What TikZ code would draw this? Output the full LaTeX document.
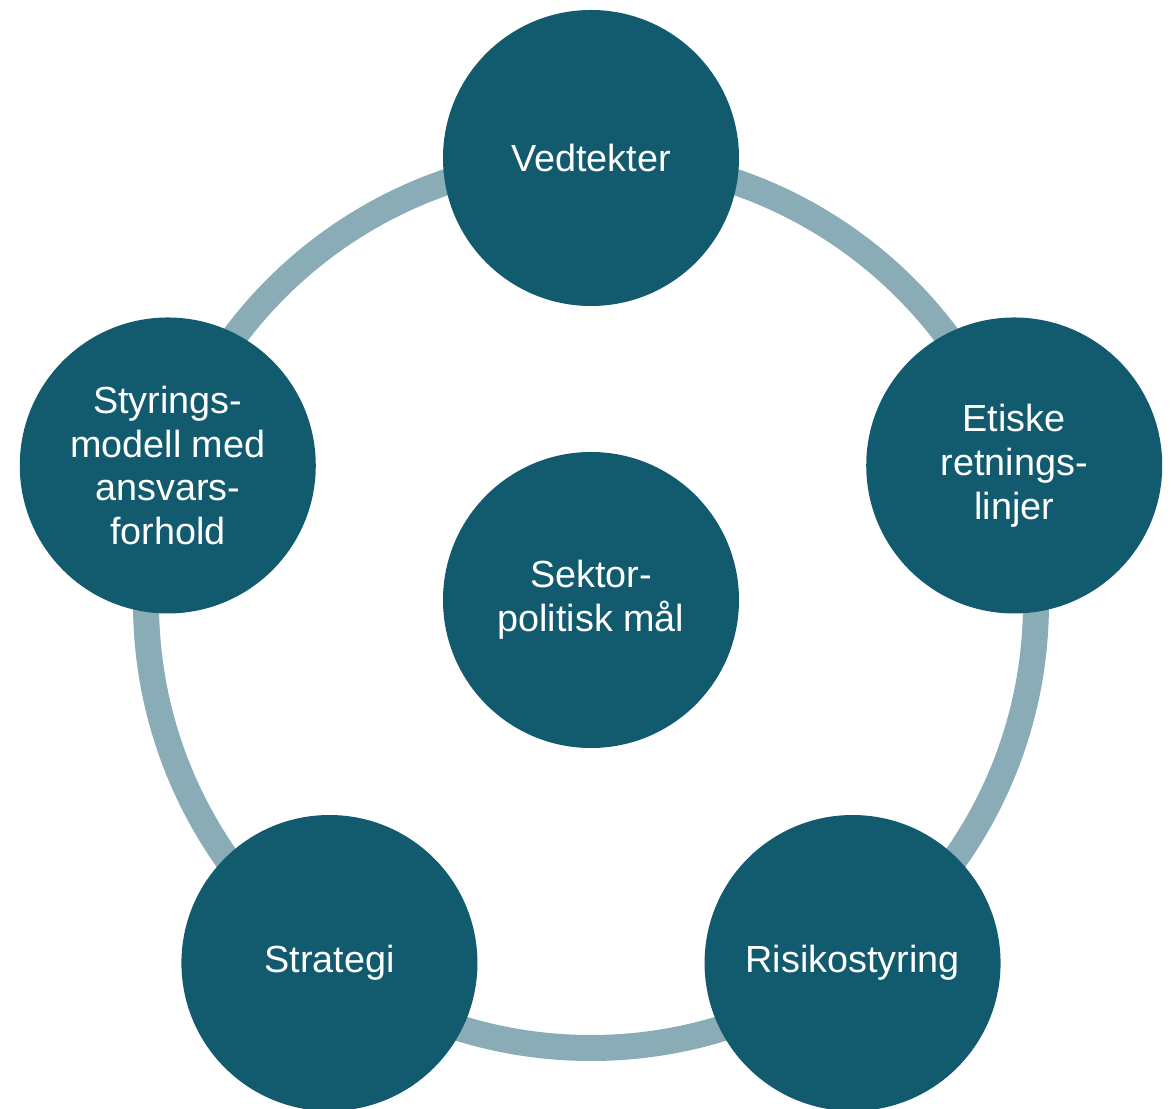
\documentclass[tikz,border=0pt]{standalone}
\usepackage{fontspec}
\setmainfont{Liberation Sans}
\definecolor{discteal}{RGB}{18,90,110}
\definecolor{ringteal}{RGB}{137,172,182}
\tikzset{
	disc/.style={circle, fill=discteal, text=white, minimum size=5.92cm, inner sep=0pt,
		align=center, font=\fontsize{21.5}{25}\selectfont},
	ring/.style={line width=0.52cm, color=ringteal}
}

\begin{document}
\begin{tikzpicture}
			%%%%% START %%%%%
			
			\useasboundingbox (-11.82, -10.12) rectangle (11.6, 12.06);
			
			\draw[ring] (0, 0) circle (8.9);
			
			\node[disc] (vedtekter) at (90:8.9) {Vedtekter};
			\node[disc] (etiske) at (18:8.9) {Etiske\\retnings-\\linjer};
			\node[disc] (risiko) at (-54:8.9) {Risikostyring};
			\node[disc] (strategi) at (234:8.9) {Strategi};
			\node[disc] (styring) at (162:8.9) {Styrings-\\modell med\\ansvars-\\forhold};
			
			\node[disc] (maal) at (0, 0.06) {Sektor-\\politisk mål};
			
			%%%%% END %%%%%
\end{tikzpicture}
\end{document}
